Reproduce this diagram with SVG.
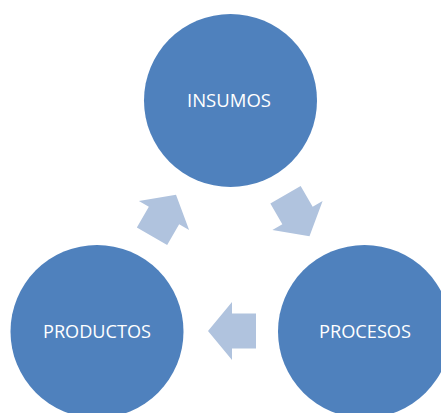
<svg xmlns="http://www.w3.org/2000/svg" width="441" height="413" viewBox="0 0 441 413">
  <style>
    .node { fill: #4F81BD; }
    .label { fill: #FFFFFF; font-family: "Open Sans", "Noto Sans", "Liberation Sans", sans-serif; font-size: 19px; text-anchor: middle; }
    .arrow { fill: #B0C3DE; }
  </style>
  <defs>
    <path id="cyc-arrow" d="M24,0 L0,-29 L0,-17.5 L-24,-17.5 L-24,17.5 L0,17.5 L0,29 Z"/>
  </defs>
  <rect width="441" height="413" fill="#FFFFFF"/>
  <g id="connectors">
    <use href="#cyc-arrow" class="arrow" transform="translate(297.5,215.5) rotate(60)"/>
    <use href="#cyc-arrow" class="arrow" transform="translate(232,331) rotate(180)"/>
    <use href="#cyc-arrow" class="arrow" transform="translate(164,215.5) rotate(-60)"/>
  </g>
  <g id="insumos">
    <circle class="node" cx="230.5" cy="100.5" r="86.5"/>
    <text class="label" x="229" y="107" textLength="84" lengthAdjust="spacingAndGlyphs">INSUMOS</text>
  </g>
  <g id="procesos">
    <circle class="node" cx="364.5" cy="331.5" r="86.5"/>
    <text class="label" x="365" y="338" textLength="92" lengthAdjust="spacingAndGlyphs">PROCESOS</text>
  </g>
  <g id="productos">
    <circle class="node" cx="97" cy="331.5" r="86.5"/>
    <text class="label" x="97" y="338" textLength="108" lengthAdjust="spacingAndGlyphs">PRODUCTOS</text>
  </g>
</svg>
